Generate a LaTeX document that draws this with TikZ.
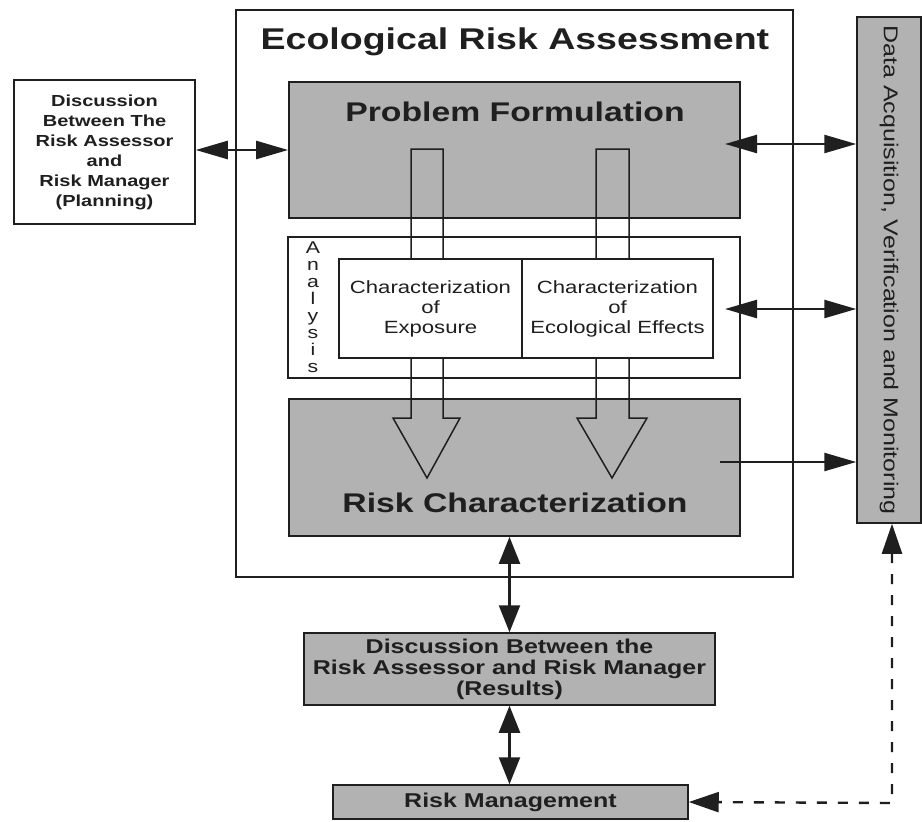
\documentclass[tikz,border=0pt]{standalone}
\usepackage{fontspec}
\setmainfont{Liberation Sans}[FakeStretch=1.25]
\usetikzlibrary{arrows.meta}
\newcommand\txtsize[2]{\fontsize{#1}{#2}\selectfont}
\definecolor{ink}{gray}{0.12}
\definecolor{stipple}{gray}{0.70}
\begin{document}
\begin{tikzpicture}[x=1pt,y=-1pt,
  box/.style={draw=ink, line width=1.8pt, inner sep=0pt},
  shaded/.style={box, fill=stipple},
  lbl/.style={text=ink, align=center, inner sep=0pt},
  hollow/.style={draw=ink, line width=1.5pt, line join=miter},
  conn/.style={draw=ink, line width=2.4pt},
  dblh/.style={conn, arrows={Triangle[length=32pt,width=18pt]-Triangle[length=32pt,width=18pt]}},
  sglh/.style={conn, arrows={-Triangle[length=32pt,width=18pt]}},
  dblv/.style={conn, arrows={Triangle[length=27pt,width=21pt]-Triangle[length=27pt,width=21pt]}},
  dashconn/.style={conn, dash pattern=on 10pt off 11pt,
    arrows={Triangle[length=30pt,width=20pt]-Triangle[length=30pt,width=20pt]}}]

\useasboundingbox[fill=white] (0,0) rectangle (922,822);

% outer frame and its title
\node[box, line width=2.4pt, minimum width=557pt, minimum height=567pt] (era) at (514.5,293.5) {};
\node[lbl, font=\bfseries\txtsize{30}{36}] (title) at (515,42) {Ecological Risk Assessment};

% shaded phases and the analysis frame
\node[shaded, minimum width=451pt, minimum height=136pt] (pf) at (514.5,150) {};
\node[lbl, font=\bfseries\txtsize{27}{32}] (pftxt) at (515,112) {Problem Formulation};
\node[box, line width=1.5pt, minimum width=452pt, minimum height=141pt] (ana) at (514,307.5) {};
\node[lbl, font=\txtsize{17}{17}] (anatxt) at (313,307) {A\\n\\a\\l\\y\\s\\i\\s};
\node[shaded, minimum width=451pt, minimum height=137pt] (rc) at (514.5,467.5) {};
\node[lbl, font=\bfseries\txtsize{27}{32}] (rctxt) at (515,503) {Risk Characterization};

% hollow flow arrows from problem formulation down to risk characterization
\draw[hollow] (411,149) -- (411,418) -- (393,418) -- (427,478) -- (460,418) -- (443,418) -- (443,149) -- cycle;
\draw[hollow] (596,149) -- (596,418) -- (577,418) -- (612,478) -- (647,418) -- (629,418) -- (629,149) -- cycle;

% analysis components
\node[box, line width=1.5pt, fill=white, minimum width=183pt, minimum height=99pt,
      font=\txtsize{17.7}{20}, text=ink, align=center] (exp) at (430.5,308.5)
      {Characterization\\of\\Exposure};
\node[box, line width=1.5pt, fill=white, minimum width=191pt, minimum height=99pt,
      font=\txtsize{17.7}{20}, text=ink, align=center] (eff) at (617.5,308.5)
      {Characterization\\of\\Ecological Effects};

% planning discussion
\node[box, line width=1.5pt, minimum width=181pt, minimum height=144pt,
      font=\bfseries\txtsize{16}{20}, text=ink, align=center] (disc) at (104.5,152)
      {Discussion\\Between The\\Risk Assessor\\and\\Risk Manager\\(Planning)};

% data acquisition column
\node[shaded, line width=1.5pt, minimum width=64pt, minimum height=506pt] (data) at (889,270) {};
\node[lbl, rotate=-90, font=\txtsize{20}{24}] (datatxt) at (data.center)
      {Data Acquisition, Verification and Monitoring};

% results discussion and risk management
\node[shaded, line width=1.5pt, minimum width=411pt, minimum height=72pt,
      font=\bfseries\txtsize{20}{21}, text=ink, align=center] (res) at (509.5,669)
      {Discussion Between the\\Risk Assessor and Risk Manager\\(Results)};
\node[shaded, line width=1.5pt, minimum width=355pt, minimum height=34pt,
      font=\bfseries\txtsize{20}{24}, text=ink] (rm) at (510.5,802) {Risk Management};

% connectors
\coordinate (pfin) at (725,144);
\coordinate (anain) at (725,309);
\coordinate (rcin) at (720,462);
\coordinate (dcorner) at (892,803);

\draw[dblh] (disc.east |- pf.west) -- (pf.west);
\draw[dblh] (pfin) -- (pfin -| data.west);
\draw[dblh] (anain) -- (anain -| data.west);
\draw[sglh] (rcin) -- (rcin -| data.west);
\draw[dblv] (rc.south -| res.north) -- (res.north);
\draw[dblv] (res.south) -- (rm.north -| res.south);
\draw[dashconn] (data.south -| dcorner) -- (dcorner) -- (rm.east);

\end{tikzpicture}
\end{document}
